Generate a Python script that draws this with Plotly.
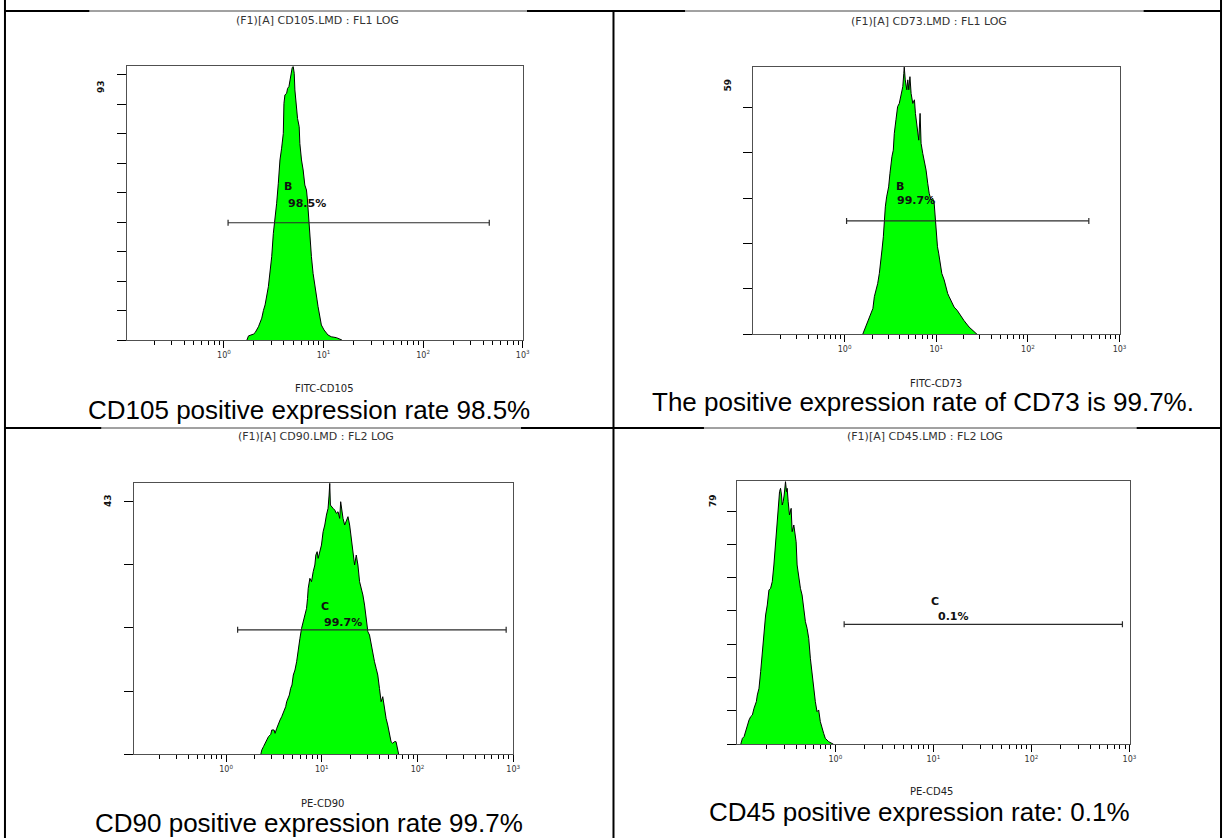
import plotly.graph_objects as go

W, H = 1231, 838

# ---------------- data (fluorescence intensity, event count) ----------------
cd105_hist = [
    (1.70, 0), (1.764, 1.4), (1.979, 2.0), (2.056, 2.5), (2.220, 4.5), (2.397, 7.4),
    (2.490, 10.0), (2.588, 11.9), (2.793, 18.1), (2.902, 22.6), (3.017, 28.3),
    (3.133, 36.2), (3.256, 40.7), (3.383, 46.4), (3.515, 53.2), (3.652, 61.1),
    (3.795, 65.1), (3.943, 70.1), (4.004, 80.3), (4.097, 83.2), (4.257, 83.7),
    (4.356, 85.4), (4.493, 86.0), (4.597, 88.2), (4.704, 90.5), (4.850, 92.5),
    (4.963, 92.8), (5.078, 90.5), (5.157, 84.9), (5.237, 82.6), (5.359, 76.9),
    (5.483, 75.2), (5.697, 72.4), (5.785, 66.7), (6.010, 61.1), (6.244, 57.7),
    (6.488, 52.6), (6.742, 50.9), (6.898, 47.5), (7.112, 40.7), (7.278, 35.1),
    (7.561, 28.3), (7.856, 22.6), (8.164, 18.1), (8.354, 17.0), (8.613, 13.6),
    (8.813, 11.3), (9.158, 7.9), (9.515, 5.1), (10.12, 3.4), (10.67, 2.3),
    (11.09, 1.7), (11.97, 1.1), (13.43, 0.8), (15.30, 0),
]
cd73_hist = [
    (1.575, 0), (1.643, 0.95), (1.713, 1.7), (1.862, 3.5), (1.951, 4.6), (2.034, 5.7),
    (2.110, 8.3), (2.211, 9.8), (2.294, 11.2), (2.391, 13.4), (2.506, 16.4),
    (2.556, 18.6), (2.644, 21.5), (2.711, 25.2), (2.780, 28.1), (2.873, 30.3),
    (3.021, 32.5), (3.123, 35.5), (3.202, 38.1), (3.283, 39.2), (3.396, 40.6),
    (3.482, 44.3), (3.631, 47.3), (3.786, 50.2), (3.947, 50.9), (4.116, 53.1),
    (4.312, 54.6), (4.421, 57.5), (4.473, 58.9), (4.587, 56.1), (4.767, 53.9),
    (4.888, 56.1), (5.012, 53.9), (5.158, 56.8), (5.316, 53.1), (5.541, 50.9),
    (5.777, 51.7), (5.924, 48.7), (6.176, 45.8), (6.439, 42.8), (6.658, 48.7),
    (6.828, 42.1), (7.118, 39.9), (7.386, 38.4), (7.738, 36.2), (8.067, 33.3),
    (8.369, 31.1), (8.770, 29.6), (9.146, 30.0), (9.489, 28.9), (9.728, 25.9),
    (10.06, 23.7), (10.31, 19.3), (10.62, 17.9), (10.94, 16.4), (11.50, 13.4),
    (12.19, 12.0), (12.71, 10.5), (13.32, 9.0), (13.81, 8.3), (14.47, 7.4),
    (15.02, 6.8), (15.66, 6.0), (16.88, 5.3), (18.20, 4.3), (20.12, 3.0),
    (22.80, 1.6), (25.85, 0.7), (27.86, 0),
]
cd90_hist = [
    (2.306, 0), (2.362, 0.69), (2.458, 1.21), (2.620, 2.0), (2.770, 2.79), (2.929, 3.16),
    (3.000, 3.85), (3.172, 3.85), (3.249, 3.32), (3.381, 4.11), (3.519, 4.90),
    (3.662, 5.43), (3.811, 5.96), (4.030, 6.75), (4.194, 7.54), (4.295, 8.33),
    (4.578, 9.39), (4.727, 10.44), (4.880, 10.97), (5.038, 12.55), (5.243, 13.34),
    (5.457, 14.66), (5.679, 16.78), (5.908, 18.36), (6.148, 19.94), (6.399, 21.0),
    (6.659, 22.05), (6.929, 23.1), (7.097, 24.69), (7.211, 26.27), (7.505, 27.86),
    (7.810, 27.33), (8.128, 28.91), (8.459, 29.97), (8.664, 31.55), (8.944, 32.08),
    (9.160, 31.02), (9.533, 32.08), (9.920, 33.13), (10.32, 35.24), (10.74, 36.30),
    (11.18, 37.88), (11.63, 38.94), (11.92, 41.05), (12.11, 42.89), (12.30, 39.46),
    (12.60, 39.2), (13.11, 38.94), (13.65, 38.67), (14.20, 38.15), (14.78, 38.41),
    (15.38, 37.35), (15.75, 39.99), (16.26, 37.88), (16.66, 37.35), (17.34, 36.30),
    (18.04, 36.83), (18.77, 37.62), (19.54, 36.30), (20.33, 34.19), (21.16, 32.60),
    (22.02, 29.97), (22.92, 31.55), (23.85, 29.97), (24.82, 27.33), (25.82, 26.27),
    (26.88, 25.22), (27.97, 23.63), (29.11, 21.52), (30.29, 19.41), (31.52, 18.88),
    (32.80, 17.30), (34.13, 15.72), (35.52, 14.66), (36.97, 13.61), (38.47, 12.55),
    (40.04, 10.44), (41.66, 8.33), (43.36, 9.12), (45.12, 7.28), (46.96, 5.69),
    (48.87, 4.64), (50.85, 3.32), (52.92, 2.0), (55.07, 1.74), (57.32, 2.0),
    (59.65, 2.0), (62.07, 1.0), (63.57, 0),
]
cd45_hist = [
    (0.1085, 0), (0.1128, 1.8), (0.1173, 2.3), (0.1220, 4.3), (0.1268, 5.8), (0.1318, 7.3),
    (0.1370, 8.3), (0.1425, 8.8), (0.1481, 10.8), (0.1516, 11.8), (0.1564, 12.8),
    (0.1601, 14.8), (0.1665, 16.8), (0.1731, 21.8), (0.1800, 27.8), (0.1871, 32.8),
    (0.1945, 38.8), (0.2023, 41.8), (0.2103, 46.3), (0.2186, 46.8), (0.2273, 48.8),
    (0.2362, 53.8), (0.2457, 60.8), (0.2554, 65.8), (0.2615, 70.8), (0.2698, 75.8),
    (0.2762, 76.8), (0.2827, 74.8), (0.2871, 71.8), (0.2939, 72.8), (0.3008, 74.8),
    (0.3103, 78.8), (0.3177, 75.8), (0.3227, 76.8), (0.3304, 72.8), (0.3408, 68.8),
    (0.3543, 70.8), (0.3627, 63.8), (0.3771, 65.8), (0.3860, 62.8), (0.3982, 60.8),
    (0.4076, 53.8), (0.4237, 49.8), (0.4406, 46.8), (0.4581, 44.8), (0.4763, 40.8),
    (0.4952, 36.8), (0.5149, 34.8), (0.5353, 31.8), (0.5564, 25.8), (0.5786, 20.8),
    (0.6015, 15.8), (0.6254, 12.8), (0.6502, 9.8), (0.6761, 10.3), (0.7030, 6.8),
    (0.7306, 4.8), (0.7598, 3.3), (0.7900, 1.8), (0.8537, 0.8), (0.9594, 0),
]

plot_titles = ["(F1)[A] CD105.LMD : FL1 LOG", "(F1)[A] CD73.LMD : FL1 LOG",
               "(F1)[A] CD90.LMD : FL2 LOG", "(F1)[A] CD45.LMD : FL2 LOG"]
axis_titles = ["FITC-CD105", "FITC-CD73", "PE-CD90", "PE-CD45"]
captions = ["CD105 positive expression rate 98.5%",
            "The positive expression rate of CD73 is 99.7%.",
            "CD90 positive expression rate 99.7%",
            "CD45 positive expression rate: 0.1%"]
y_max = [93, 59, 43, 79]
gate_names = ["B", "B", "C", "C"]
gate_pcts = ["98.5%", "99.7%", "99.7%", "0.1%"]
gate_lo = [1.10, 1.05, 1.32, 1.23]
gate_hi = [462, 462, 844, 847]
gate_level = [39.8, 25.0, 19.7, 36.0]
x_major_vals = [1, 10, 100, 1000]
x_major_text = ["10<sup>0</sup>", "10<sup>1</sup>", "10<sup>2</sup>", "10<sup>3</sup>"]

hists = [cd105_hist, cd73_hist, cd90_hist, cd45_hist]

# ---------------- layout geometry (pixels) ----------------
boxes = [(127.7, 525.7, 66.0, 340.0), (757.3, 1126.0, 66.7, 334.3),
         (134.4, 516.2, 482.7, 754.3), (741.5, 1136.0, 481.0, 744.3)]
x_log_lo = [-0.974, -1.0, -0.966, -1.0]
title_pos = [(319, 20), (934, 21.5), (318, 436.5), (930, 436.5)]
axtitle_pos = [(326.5, 388.3), (941, 383.3), (324, 803.3), (937, 791.7)]
caption_pos = [(311, 410), (928, 402), (311, 823), (925, 812)]
ylab_pos = [(101.5, 86), (731.7, 85), (108.7, 501), (717, 500)]
gname_pos = [(289.3, 186.7), (905, 186), (326.7, 606.7), (940, 601.7)]
gpct_pos = [(308.3, 203.3), (921.3, 200.7), (345, 622.3), (959, 616.7)]

minor_vals = [m * 10 ** e for e in range(-1, 3) for m in range(2, 10)]


def fx(p):
    return p / W


def fy(p):
    return 1 - p / H


fig = go.Figure()
layout = dict(
    width=W, height=H, autosize=False,
    margin=dict(l=0, r=0, t=0, b=0, pad=0),
    paper_bgcolor="white", plot_bgcolor="white",
    showlegend=False,
)
annotations = []


def ann(x, y, text, size, family="DejaVu Sans", color="#222", angle=0):
    annotations.append(dict(
        x=fx(x), y=fy(y), xref="paper", yref="paper", text=text,
        showarrow=False, xanchor="center", yanchor="middle", textangle=angle,
        font=dict(family=family, size=size, color=color),
    ))


for i in range(4):
    sfx = "" if i == 0 else str(i + 1)
    xa, ya = "x" + sfx, "y" + sfx
    L, R, T, B = boxes[i]
    xs = [p[0] for p in hists[i]]
    ys = [p[1] for p in hists[i]]
    fig.add_trace(go.Scatter(
        x=xs, y=ys, mode="lines", fill="tozeroy", fillcolor="#00ff00",
        line=dict(color="black", width=1), xaxis=xa, yaxis=ya,
        hoverinfo="skip", showlegend=False,
    ))
    d = 3.0 * y_max[i] / (B - T)
    lo, hi, g = gate_lo[i], gate_hi[i], gate_level[i]
    fig.add_trace(go.Scatter(
        x=[lo, hi, None, lo, lo, None, hi, hi],
        y=[g, g, None, g - d, g + d, None, g - d, g + d],
        mode="lines", line=dict(color="#2b2b2b", width=1.2),
        xaxis=xa, yaxis=ya, hoverinfo="skip", showlegend=False,
    ))
    layout["xaxis" + sfx] = dict(
        domain=[fx(L), fx(R)], type="log", range=[x_log_lo[i], 3.0005],
        anchor=ya, showline=True, mirror=True, linecolor="#505050", linewidth=1,
        ticks="outside", ticklen=7, tickwidth=1, tickcolor="black",
        tickmode="array", tickvals=x_major_vals, ticktext=x_major_text,
        tickfont=dict(family="DejaVu Sans", size=8, color="#333"),
        showgrid=False, zeroline=False, fixedrange=True,
        minor=dict(tickmode="array", tickvals=minor_vals, ticks="outside",
                   ticklen=4, tickwidth=1, tickcolor="black", showgrid=False),
    )
    layout["yaxis" + sfx] = dict(
        domain=[fy(B), fy(T)], range=[0, y_max[i]], anchor=xa,
        showline=True, mirror=True, linecolor="#505050", linewidth=1,
        ticks="outside", ticklen=9, tickwidth=1, tickcolor="black",
        tickmode="linear", tick0=0, dtick=10, showticklabels=False,
        showgrid=False, zeroline=False, fixedrange=True,
    )
    ann(*title_pos[i], plot_titles[i], 11, color="#333")
    ann(*axtitle_pos[i], axis_titles[i], 10, color="#222")
    ann(*caption_pos[i], captions[i], 26, family="Liberation Sans, Arial", color="black")
    ann(*ylab_pos[i], "<b>%d</b>" % y_max[i], 9, color="#111", angle=-90)
    ann(*gname_pos[i], "<b>%s</b>" % gate_names[i], 11, color="#111")
    ann(*gpct_pos[i], "<b>%s</b>" % gate_pcts[i], 11, color="#111")

# ---------------- table borders ----------------
shapes = []


def seg(x0, y0, x1, y1, w, color):
    shapes.append(dict(type="line", xref="paper", yref="paper",
                       x0=fx(x0), y0=fy(y0), x1=fx(x1), y1=fy(y1),
                       line=dict(color=color, width=w)))


seg(5, 0, 5, H, 2, "black")
seg(1228, 0, 1228, H, 2, "black")
seg(617, 11, 617, H, 2, "black")
for (a, b) in [(5, 90), (530, 689), (1150, 1228)]:
    seg(a, 11, b, 11, 2, "black")
for (a, b) in [(90, 530), (689, 1150)]:
    seg(a, 11, b, 11, 1, "#444")
for (a, b) in [(5, 102), (524, 708), (1143, 1228)]:
    seg(a, 428, b, 428, 2, "black")
for (a, b) in [(102, 524), (708, 1143)]:
    seg(a, 428, b, 428, 1, "#444")

layout["annotations"] = annotations
layout["shapes"] = shapes
fig.update_layout(**layout)

fig.write_html(
    "out.html",
    config={"displayModeBar": False, "responsive": False},
    post_script="document.documentElement.style.margin='0px';"
                "document.body.style.margin='0px';"
                "document.documentElement.style.overflow='hidden';"
                "document.body.style.overflow='hidden';",
)
